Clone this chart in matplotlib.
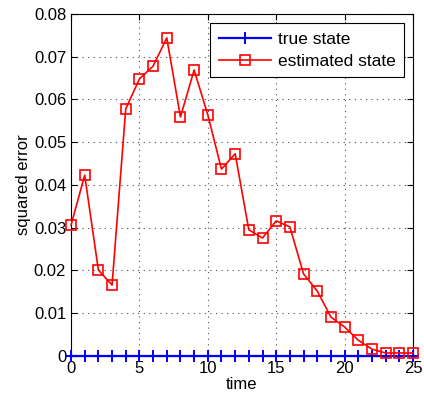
import matplotlib
matplotlib.use('Agg')
import matplotlib.pyplot as plt
import numpy as np

plt.rcParams['font.family'] = ['Liberation Sans', 'DejaVu Sans']

t = np.arange(26)
true_err = np.zeros(26)
est_err = [0.0306, 0.0423, 0.0201, 0.0166, 0.0578, 0.0648, 0.0678, 0.0744,
           0.0559, 0.0669, 0.0564, 0.0437, 0.0473, 0.0295, 0.0276, 0.0316,
           0.0302, 0.0192, 0.0152, 0.0091, 0.0068, 0.0037, 0.0016, 0.0007,
           0.0007, 0.0007]

fig = plt.figure(figsize=(4.24, 4.01), dpi=100)
ax = fig.add_axes([0.1675, 0.1122, 0.8065, 0.853])
ax.plot(t, true_err, color='b', marker='+', markersize=8, markeredgewidth=1.4,
        linewidth=1.6, label='true state', zorder=3, clip_on=False)
ax.plot(t, est_err, color='r', marker='s', markersize=6.5, markerfacecolor='none',
        markeredgewidth=1.2, linewidth=1.2, label='estimated state', zorder=4,
        clip_on=False)
ax.set_xlim(0, 25)
ax.set_ylim(0, 0.08)
ax.set_xticks([0, 5, 10, 15, 20, 25])
ax.set_yticks(np.arange(0, 0.081, 0.01))
ax.set_yticklabels(['0', '0.01', '0.02', '0.03', '0.04', '0.05', '0.06', '0.07', '0.08'])
ax.tick_params(direction='in', labelsize=12, top=True, right=True, length=4)
ax.grid(True, linestyle=(0, (1, 4)), color='0.3', linewidth=0.8)
ax.set_xlabel('time', fontsize=12, labelpad=1)
ax.set_ylabel('squared error', fontsize=12, labelpad=2)
leg = ax.legend(loc='upper right', fontsize=12.5, fancybox=False, framealpha=1,
                edgecolor='k', borderpad=0.5, handlelength=3.0, handletextpad=0.4,
                labelspacing=0.4, borderaxespad=0,
                bbox_to_anchor=(0.974, 0.974))
leg.get_frame().set_linewidth(0.8)
fig.savefig('out.png', dpi=100)
